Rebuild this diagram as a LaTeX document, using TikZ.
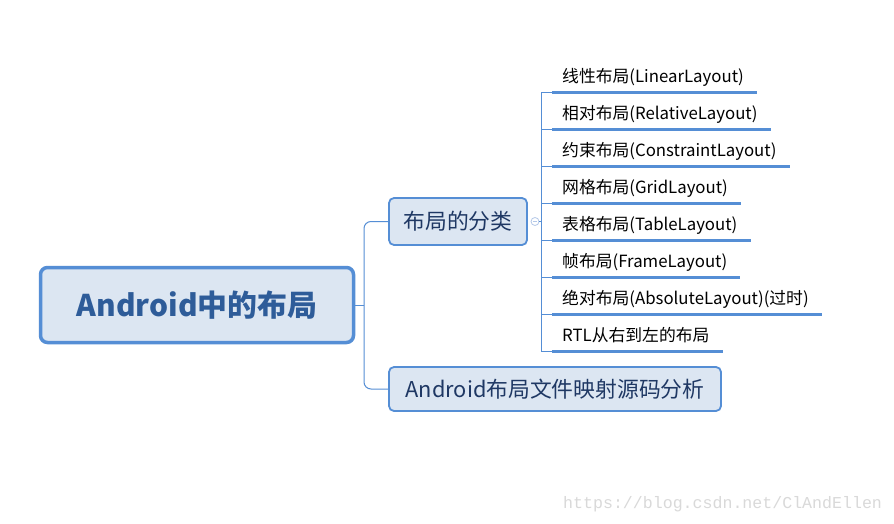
\documentclass[tikz,border=0pt]{standalone}
\usepackage{fontspec}
\setmainfont{Noto Sans CJK SC}
\newfontfamily\wmfont{Liberation Mono}
\usetikzlibrary{calc}
\definecolor{lineblue}{HTML}{558ED5}
\definecolor{fillblue}{HTML}{DCE6F2}
\definecolor{roottext}{HTML}{2E5C99}
\definecolor{branchtext}{HTML}{1F3864}
\definecolor{knobc}{HTML}{B4C8E8}
\definecolor{wmgray}{HTML}{D9D9D9}
\tikzset{
  rootbox/.style={draw=lineblue, line width=3.5pt, fill=fillblue, rounded corners=7pt,
    minimum width=313pt, minimum height=75pt, inner sep=0pt, text=roottext,
    font=\fontsize{29.9}{29.9}\selectfont\bfseries},
  branchbox/.style={draw=lineblue, line width=1.8pt, fill=fillblue, rounded corners=5pt,
    inner sep=0pt, text=branchtext, font=\fontsize{21.8}{21.8}\selectfont},
  leaf/.style={anchor=base west, inner sep=0pt, font=\fontsize{16.8}{16.8}\selectfont},
  conn/.style={draw=lineblue, line width=1pt},
  ul/.style={draw=lineblue, line width=3pt},
}
\begin{document}
\begin{tikzpicture}[x=1pt,y=-1pt]
\fill[white] (0,0) rectangle (894,524);
\useasboundingbox (0,0) rectangle (894,524);
\node[rootbox] (root) at (197,305) {Android中的布局};
\node[branchbox, minimum width=138pt, minimum height=47pt] (b1) at (458,221.5) {布局的分类};
\node[branchbox, minimum width=332pt, minimum height=44pt] (b2) at (555,389) {Android布局文件映射源码分析};
\coordinate (j) at (364,305);
\draw[conn] (root.east) -- (j);
\draw[conn, rounded corners=7pt] (j) |- (b1.west);
\draw[conn, rounded corners=7pt] (j) |- (b2.west);
\node[circle, draw=knobc, line width=0.8pt, minimum size=8pt, inner sep=0pt] (knob) at (535,221.5) {};
\draw[knobc, line width=0.8pt] ($(knob.center)+(-2.2,0)$) -- ($(knob.center)+(2.2,0)$);
\foreach \i/\y/\t in {1/92.3/线性布局(LinearLayout),
                      2/129.3/相对布局(RelativeLayout),
                      3/166.3/约束布局(ConstraintLayout),
                      4/203.3/网格布局(GridLayout),
                      5/240.3/表格布局(TableLayout),
                      6/277.3/帧布局(FrameLayout),
                      7/314.3/绝对布局(AbsoluteLayout)(过时),
                      8/351.3/RTL从右到左的布局} {
  \node[leaf] (l\i) at (562,\y-10) {\t};
  \coordinate (a\i) at ($(l\i.base west)+(-21,10)$);
  \coordinate (s\i) at ($(l\i.base west)+(-10,10)$);
  \coordinate (e\i) at ($(l\i.base east)+(13,10)$);
  \draw[conn] (a\i) -- (s\i);
  \draw[ul] (s\i) -- (e\i);
}
\draw[conn] (a1) -- (a8);
\draw[conn] (knob.east) -- (knob.east -| a1);
\node[anchor=base west, inner sep=0pt, text=wmgray, font=\wmfont\fontsize{16.6}{16.6}\selectfont] (wm) at (563,508) {https://blog.csdn.net/ClAndEllen};
\end{tikzpicture}
\end{document}
